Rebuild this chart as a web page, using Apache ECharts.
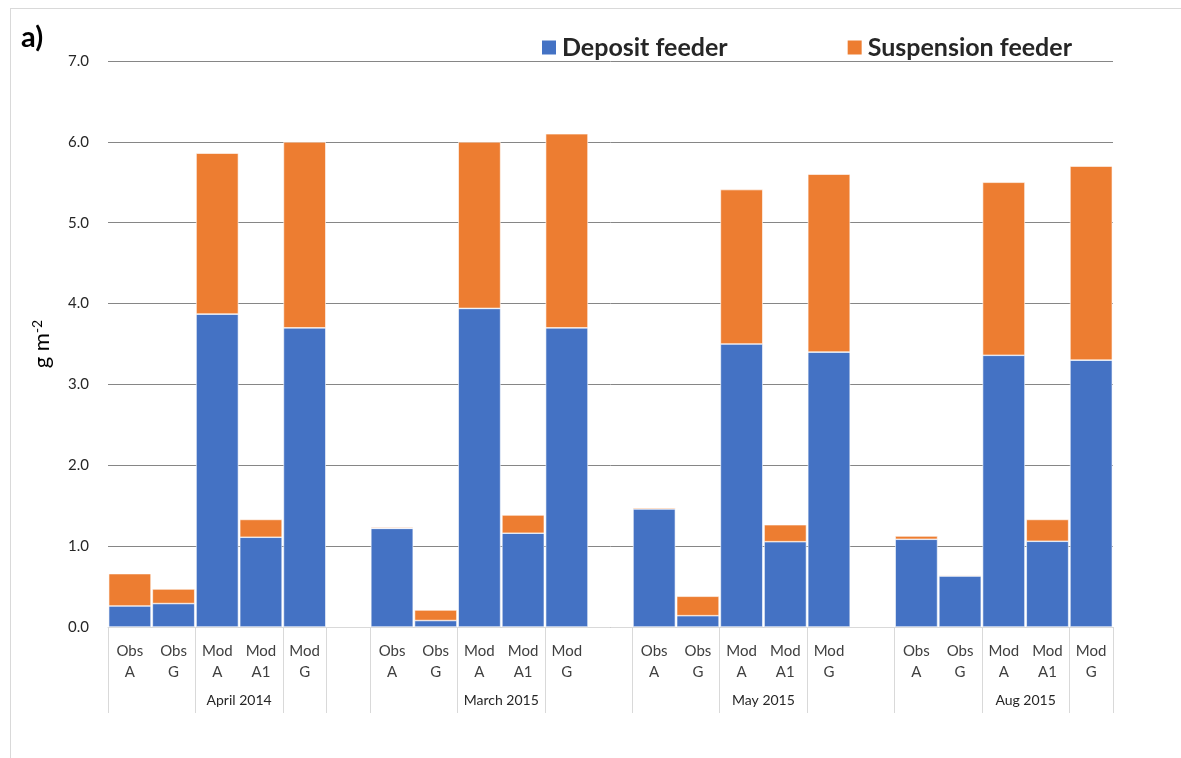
<!DOCTYPE html>
<html>
<head>
    <meta charset="UTF-8">
    <title>Feeder biomass</title>
    <script src="https://cdn.jsdelivr.net/npm/echarts@6/dist/echarts.min.js"></script>
    <style>
        body { margin: 0; background: #fff; overflow: hidden; }
        #frame { position: absolute; left: 10px; top: 8px; width: 1300px; height: 900px; border: 1px solid #d9d9d9; }
        #main { position: absolute; left: 0; top: 0; width: 1181px; height: 758px; }
    </style>
</head>
<body>
<div id="frame"></div>
<div id="main"></div>
<script>
    // categories, a blank one between each sampling date
    var categories = [
        'Obs\nA', 'Obs\nG', 'Mod\nA', 'Mod\nA1', 'Mod\nG', '',
        'Obs\nA', 'Obs\nG', 'Mod\nA', 'Mod\nA1', 'Mod\nG', '',
        'Obs\nA', 'Obs\nG', 'Mod\nA', 'Mod\nA1', 'Mod\nG', '',
        'Obs\nA', 'Obs\nG', 'Mod\nA', 'Mod\nA1', 'Mod\nG'
    ];
    var dates = ['April 2014', 'March 2015', 'May 2015', 'Aug 2015'];
    var datePos = [3, 9, 15, 21];
    var separators = [0, 2, 4, 5, 6, 8, 10, 12, 14, 16, 18, 20, 22, 23];

    var deposit = [
        0.26, 0.29, 3.87, 1.11, 3.70, null,
        1.22, 0.08, 3.94, 1.16, 3.70, null,
        1.46, 0.14, 3.50, 1.055, 3.40, null,
        1.085, 0.63, 3.36, 1.06, 3.30
    ];
    var suspension = [
        0.40, 0.18, 1.99, 0.22, 2.30, null,
        0.015, 0.13, 2.06, 0.225, 2.40, null,
        0.015, 0.24, 1.91, 0.21, 2.20, null,
        0.04, 0.012, 2.14, 0.27, 2.40
    ];
    var yTicks = {min: 0, max: 7, interval: 1};

    var font = 'Lato, "Open Sans", sans-serif';
    var chart = echarts.init(document.getElementById('main'));

    chart.setOption({
        animation: false,
        textStyle: {fontFamily: font},
        title: {
            text: 'a)',
            left: 16,
            top: 18,
            textStyle: {fontSize: 29, fontWeight: 'bold', color: '#000', fontFamily: font}
        },
        legend: {
            left: 535,
            top: 30,
            itemWidth: 16,
            itemHeight: 16,
            itemGap: 118,
            icon: 'rect',
            textStyle: {fontSize: 25, fontWeight: 'bold', color: '#262626', fontFamily: font},
            data: ['Deposit feeder', 'Suspension feeder']
        },
        grid: {left: 108, right: 68, top: 61, bottom: 131, containLabel: false},
        xAxis: [{
            type: 'category',
            data: categories,
            axisLine: {lineStyle: {color: '#d9d9d9'}},
            axisTick: {show: false},
            axisLabel: {
                interval: 0,
                margin: 14,
                fontSize: 15,
                lineHeight: 21,
                color: '#404040',
                fontFamily: font
            }
        }, {
            type: 'value',
            position: 'bottom',
            min: 0,
            max: categories.length,
            axisLine: {show: false},
            splitLine: {show: false},
            axisTick: {
                show: true,
                length: 86,
                customValues: separators,
                lineStyle: {color: '#d9d9d9', width: 1}
            },
            axisLabel: {
                customValues: datePos,
                margin: 66,
                fontSize: 14,
                color: '#262626',
                fontFamily: font,
                formatter: function (v) {
                    var i = datePos.indexOf(v);
                    return i >= 0 ? dates[i] : '';
                }
            }
        }],
        yAxis: {
            type: 'value',
            min: yTicks.min,
            max: yTicks.max,
            interval: yTicks.interval,
            name: 'g m{sup|-2}',
            nameLocation: 'middle',
            nameGap: 55,
            nameTextStyle: {
                fontSize: 22,
                color: '#000',
                fontFamily: font,
                rich: {sup: {fontSize: 14, verticalAlign: 'top', padding: [0, 0, 9, 0], color: '#000', fontFamily: font}}
            },
            axisLine: {show: false},
            axisTick: {show: false},
            axisLabel: {
                margin: 19,
                fontSize: 15,
                color: '#262626',
                fontFamily: font,
                formatter: function (v) { return v.toFixed(1); }
            },
            splitLine: {lineStyle: {color: '#868686', width: 1}}
        },
        series: [{
            name: 'Deposit feeder',
            type: 'bar',
            stack: 'total',
            barCategoryGap: '3%',
            data: deposit,
            itemStyle: {color: '#4472c4', borderColor: '#ffffff', borderWidth: 0.6}
        }, {
            name: 'Suspension feeder',
            type: 'bar',
            stack: 'total',
            barCategoryGap: '3%',
            data: suspension,
            itemStyle: {color: '#ed7d31', borderColor: '#ffffff', borderWidth: 0.6}
        }]
    });
</script>
</body>
</html>
